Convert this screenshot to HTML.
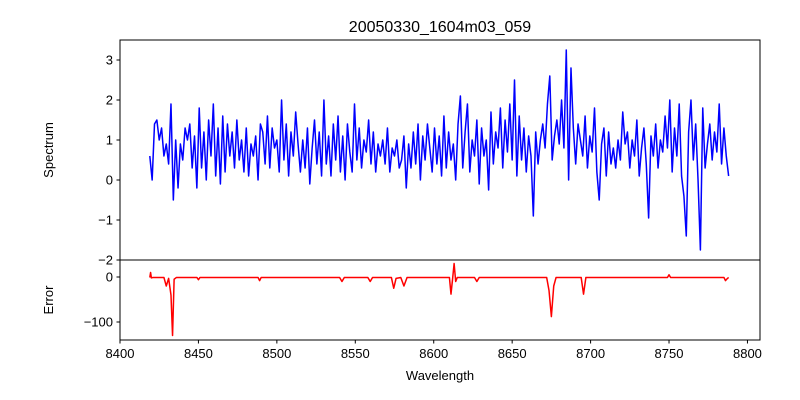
<!DOCTYPE html>
<html><head><meta charset="utf-8"><style>
body{margin:0;background:#fff;}
svg{display:block;font-family:"Liberation Sans","DejaVu Sans",sans-serif;}
</style></head><body>
<svg id="chart" width="800" height="400">
<text x="440" y="32" text-anchor="middle" font-size="16">20050330_1604m03_059</text>
<g id="topPanel"></g>
<g id="botPanel"></g>
<text transform="translate(53,150) rotate(-90)" text-anchor="middle" font-size="13">Spectrum</text>
<text transform="translate(53,300) rotate(-90)" text-anchor="middle" font-size="13">Error</text>
<text x="440" y="380" text-anchor="middle" font-size="13">Wavelength</text>
</svg>
<script>
const xTicks=[8400,8450,8500,8550,8600,8650,8700,8750,8800];
const yTopTicks=[3,2,1,0,-1,-2];
const yBotTicks=[0,-100];
const specStart=8419, specStep=1.5;
const specVals=[0.6,0.0,1.4,1.5,1.0,1.3,0.6,0.9,0.4,1.9,
-0.5,1.0,-0.2,0.9,0.5,1.3,1.0,1.4,0.3,1.1,
-0.2,1.8,0.3,1.2,0.0,1.5,0.6,1.9,0.1,1.3,
-0.1,1.6,0.2,1.4,0.6,1.2,0.3,1.5,0.5,1.0,
0.2,1.3,0.1,0.9,0.6,1.1,0.0,1.4,1.2,0.4,
1.6,0.3,1.3,0.8,1.0,0.2,2.0,0.5,1.4,0.1,
1.2,0.6,1.7,0.9,0.2,1.0,0.3,1.3,-0.1,0.8,
1.5,0.4,1.2,0.1,2.0,0.4,1.1,0.1,1.4,0.5,
1.6,0.2,1.1,0.0,1.4,0.7,0.2,1.9,0.5,1.3,
0.3,1.0,0.7,1.5,0.4,1.2,0.2,0.9,0.6,1.0,
0.4,1.3,0.2,0.8,0.6,1.0,0.3,0.5,1.1,-0.2,
0.9,0.3,1.2,0.4,1.4,0.0,1.1,0.5,1.4,0.8,
0.2,1.3,0.4,1.1,0.1,1.6,0.3,1.2,0.5,0.9,
0.0,1.4,2.1,0.3,1.2,1.9,0.2,1.0,0.6,1.5,
-0.1,1.3,0.6,1.0,-0.25,1.7,0.4,1.2,0.8,1.8,
0.3,1.5,0.7,1.9,0.5,2.5,0.1,1.6,0.5,1.3,
0.2,1.1,0.6,-0.9,1.2,0.4,1.0,1.4,0.8,1.9,
2.6,0.5,1.1,1.5,0.9,2.0,0.8,3.25,0.0,2.8,
1.3,0.4,1.4,1.0,0.6,1.6,0.3,1.1,0.7,1.8,
0.2,-0.5,0.9,1.3,0.1,1.2,0.4,0.8,0.3,1.0,
0.5,1.7,0.9,1.2,0.3,1.0,0.6,1.5,0.1,0.8,
1.3,0.4,-0.95,1.1,0.6,1.4,0.3,1.0,0.7,1.6,
0.8,2.0,0.2,1.3,0.6,1.9,0.1,-0.4,-1.4,1.2,
2.0,0.5,1.4,0.0,-1.75,1.8,0.3,0.9,1.4,0.5,
1.2,0.7,1.9,0.4,1.3,0.6,0.1];
const errWave=[8419,8419.5,8420,8421,8428,8429.5,8431,8432.5,8433.5,8434.5,8436,8449,8450,8451,8488,8489,8490,8540,8541.5,8543,8558,8559.5,8561,8573,8574.5,8576,8579,8581,8583,8610,8611,8612,8613,8614,8615,8626,8627.5,8629,8672,8673.5,8675,8676.5,8678,8694,8695.5,8697,8749,8750,8751,8785,8786,8787,8788];
const errVal=[-1,10,-2,-1,-1,-20,-3,-40,-130,-5,-1,-1,-6,-1,-1,-8,-1,-1,-10,-1,-1,-10,-1,-1,-25,-3,-1,-20,-1,-1,-38,-5,30,-10,-1,-1,-10,-1,-1,-30,-88,-20,-1,-1,-38,-1,-1,5,-1,-1,-8,-4,-1];
const NS="http://www.w3.org/2000/svg";
const X0=120,X1=760;
const xs=w=>X0+(w-8400)*(X1-X0)/408;
const yTop=v=>40+(3.5-v)*40;
const yBot=v=>260+(37.8-v)*80/177.8;
function mk(tag,attrs,parent){const e=document.createElementNS(NS,tag);for(const k in attrs)e.setAttribute(k,attrs[k]);parent.appendChild(e);return e;}
const topG=document.getElementById('topPanel'),botG=document.getElementById('botPanel');
let d='';specVals.forEach((v,i)=>{d+=(i?'L':'M')+xs(specStart+i*specStep).toFixed(2)+','+yTop(v).toFixed(2);});
const sl=mk('path',{d:d,fill:'none',stroke:'#0000ff','stroke-width':1.5,'stroke-linejoin':'round'},topG);


let d2='';errVal.forEach((v,i)=>{d2+=(i?'L':'M')+xs(errWave[i]).toFixed(2)+','+yBot(v).toFixed(2);});
const el=mk('path',{d:d2,fill:'none',stroke:'#ff0000','stroke-width':1.5,'stroke-linejoin':'round'},botG);


const f1=mk('rect',{x:X0,y:40,width:X1-X0,height:220,fill:'none',stroke:'#000','stroke-width':1},topG);


const f2=mk('rect',{x:X0,y:260,width:X1-X0,height:80,fill:'none',stroke:'#000','stroke-width':1},botG);


yTopTicks.forEach(v=>{const y=yTop(v);mk('line',{x1:X0-3.5,x2:X0,y1:y,y2:y,stroke:'#000'},topG);
const t=mk('text',{x:X0-7,y:y+4.5,'text-anchor':'end','font-size':13},topG);t.textContent=v<0?'\u2212'+(-v):v;

});
yBotTicks.forEach(v=>{const y=yBot(v);mk('line',{x1:X0-3.5,x2:X0,y1:y,y2:y,stroke:'#000'},botG);
const t=mk('text',{x:X0-7,y:y+4.5,'text-anchor':'end','font-size':13},botG);t.textContent=v<0?'\u2212'+(-v):v;

});
xTicks.forEach(v=>{const x=xs(v);mk('line',{x1:x,x2:x,y1:340,y2:343.5,stroke:'#000'},botG);
const t=mk('text',{x:x,y:358,'text-anchor':'middle','font-size':13},botG);t.textContent=v;

});
</script>
</body></html>
